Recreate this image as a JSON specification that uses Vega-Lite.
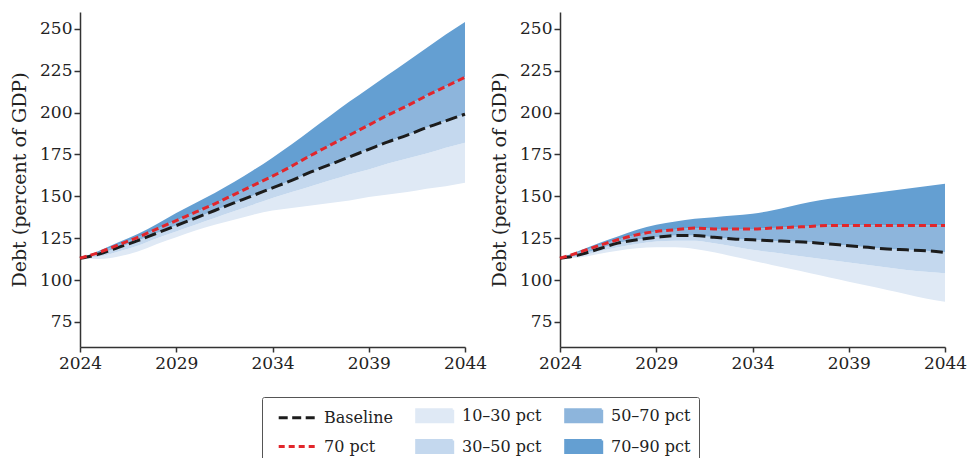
{
  "$schema": "https://vega.github.io/schema/vega-lite/v6.json",
  "padding": {"left": 10, "top": 12, "right": 5, "bottom": 0},
  "background": "white",
  "bounds": "flush",
  "spacing": 95,
  "config": {
    "font": "DejaVu Serif",
    "view": {"stroke": null},
    "axis": {
      "grid": false,
      "domainColor": "#333333",
      "domainWidth": 1.5,
      "tickColor": "#333333",
      "tickWidth": 1.5,
      "tickSize": 6,
      "labelFont": "DejaVu Serif",
      "labelFontSize": 17,
      "labelColor": "#222222",
      "labelPadding": 2,
      "titleFont": "DejaVu Serif",
      "titleFontSize": 19,
      "titleFontWeight": "normal",
      "titleColor": "#222222"
    }
  },
  "datasets": {
    "debt": [
      {"panel": "A", "year": 2024, "p10": 113, "p30": 113, "base": 113, "p70": 113, "p90": 113},
      {"panel": "A", "year": 2025, "p10": 112.5, "p30": 114, "base": 115.5, "p70": 116.5, "p90": 117.5},
      {"panel": "A", "year": 2026, "p10": 114, "p30": 117, "base": 119.5, "p70": 121, "p90": 122.5},
      {"panel": "A", "year": 2027, "p10": 117, "p30": 120.5, "base": 123.5, "p70": 125.5, "p90": 127.5},
      {"panel": "A", "year": 2028, "p10": 121.5, "p30": 125, "base": 128, "p70": 130.5, "p90": 133.5},
      {"panel": "A", "year": 2029, "p10": 125.5, "p30": 129, "base": 132.5, "p70": 135.5, "p90": 140},
      {"panel": "A", "year": 2030, "p10": 129.5, "p30": 133, "base": 137, "p70": 140.5, "p90": 146},
      {"panel": "A", "year": 2031, "p10": 133, "p30": 137, "base": 141.5, "p70": 145.5, "p90": 152},
      {"panel": "A", "year": 2032, "p10": 136, "p30": 141, "base": 146, "p70": 151, "p90": 158.5},
      {"panel": "A", "year": 2033, "p10": 139, "p30": 145, "base": 150.5, "p70": 156.5, "p90": 165.5},
      {"panel": "A", "year": 2034, "p10": 141.5, "p30": 149, "base": 155, "p70": 162, "p90": 173},
      {"panel": "A", "year": 2035, "p10": 143, "p30": 152.5, "base": 159.5, "p70": 168, "p90": 181},
      {"panel": "A", "year": 2036, "p10": 144.5, "p30": 156, "base": 164.5, "p70": 174.5, "p90": 189.5},
      {"panel": "A", "year": 2037, "p10": 146, "p30": 159.5, "base": 169, "p70": 180.5, "p90": 198},
      {"panel": "A", "year": 2038, "p10": 147.5, "p30": 163, "base": 173.5, "p70": 186.5, "p90": 206.5},
      {"panel": "A", "year": 2039, "p10": 149.5, "p30": 166, "base": 178, "p70": 192.5, "p90": 214.5},
      {"panel": "A", "year": 2040, "p10": 151, "p30": 169.5, "base": 182.5, "p70": 198.5, "p90": 222.5},
      {"panel": "A", "year": 2041, "p10": 152.5, "p30": 172.5, "base": 186.5, "p70": 204, "p90": 230.5},
      {"panel": "A", "year": 2042, "p10": 154.5, "p30": 175.5, "base": 191, "p70": 210, "p90": 238.5},
      {"panel": "A", "year": 2043, "p10": 156, "p30": 179, "base": 195, "p70": 215.5, "p90": 246.5},
      {"panel": "A", "year": 2044, "p10": 158, "p30": 182, "base": 199, "p70": 221, "p90": 254},
      {"panel": "B", "year": 2024, "p10": 113, "p30": 113, "base": 113, "p70": 113, "p90": 113},
      {"panel": "B", "year": 2025, "p10": 113.5, "p30": 114, "base": 115, "p70": 116.5, "p90": 117.5},
      {"panel": "B", "year": 2026, "p10": 115.5, "p30": 117, "base": 118.5, "p70": 120.5, "p90": 122},
      {"panel": "B", "year": 2027, "p10": 117.5, "p30": 119.5, "base": 122, "p70": 124, "p90": 126},
      {"panel": "B", "year": 2028, "p10": 119, "p30": 121.5, "base": 124, "p70": 127, "p90": 130},
      {"panel": "B", "year": 2029, "p10": 119.5, "p30": 123, "base": 125.5, "p70": 129, "p90": 133},
      {"panel": "B", "year": 2030, "p10": 119.5, "p30": 123.5, "base": 126.5, "p70": 130, "p90": 135},
      {"panel": "B", "year": 2031, "p10": 118.5, "p30": 123.5, "base": 126.5, "p70": 131, "p90": 136.5},
      {"panel": "B", "year": 2032, "p10": 116.5, "p30": 122, "base": 125.5, "p70": 130.5, "p90": 137.5},
      {"panel": "B", "year": 2033, "p10": 114, "p30": 120, "base": 124.5, "p70": 130.5, "p90": 138.5},
      {"panel": "B", "year": 2034, "p10": 111.5, "p30": 118, "base": 124, "p70": 130.5, "p90": 139.5},
      {"panel": "B", "year": 2035, "p10": 109, "p30": 116.5, "base": 123.5, "p70": 131, "p90": 141.5},
      {"panel": "B", "year": 2036, "p10": 106.5, "p30": 115, "base": 123, "p70": 131.5, "p90": 144},
      {"panel": "B", "year": 2037, "p10": 104, "p30": 113.5, "base": 122.5, "p70": 132, "p90": 146.5},
      {"panel": "B", "year": 2038, "p10": 101.5, "p30": 112, "base": 121.5, "p70": 132.5, "p90": 148.5},
      {"panel": "B", "year": 2039, "p10": 99, "p30": 110.5, "base": 120.5, "p70": 132.5, "p90": 150},
      {"panel": "B", "year": 2040, "p10": 96.5, "p30": 109, "base": 119.5, "p70": 132.5, "p90": 151.5},
      {"panel": "B", "year": 2041, "p10": 94, "p30": 107.5, "base": 118.5, "p70": 132.5, "p90": 153},
      {"panel": "B", "year": 2042, "p10": 91.5, "p30": 106, "base": 118, "p70": 132.5, "p90": 154.5},
      {"panel": "B", "year": 2043, "p10": 89, "p30": 105, "base": 117.5, "p70": 132.5, "p90": 156},
      {"panel": "B", "year": 2044, "p10": 87, "p30": 104, "base": 116.5, "p70": 132.5, "p90": 157.5}
    ]
  },
  "data": {"name": "debt"},
  "hconcat": [
    {
      "width": 385,
      "height": 335,
      "transform": [{"filter": "datum.panel === 'A'"}],
      "encoding": {
        "x": {"field": "year", "type": "quantitative", "scale": {"domain": [2024, 2044], "nice": false, "zero": false},
              "axis": {"values": [2024, 2029, 2034, 2039, 2044], "format": "d", "title": null, "labelFlush": false, "tickSize": 5, "labelPadding": 3}}
      },
      "layer": [
        {"mark": {"type": "area", "interpolate": "monotone"},
         "encoding": {
           "y": {"field": "p10", "type": "quantitative", "scale": {"domain": [60, 260], "nice": false, "zero": false},
                 "axis": {"values": [75, 100, 125, 150, 175, 200, 225, 250], "title": "Debt (percent of GDP)", "titlePadding": 10}},
           "y2": {"field": "p30"},
           "color": {"datum": "10–30 pct", "type": "nominal",
             "scale": {"domain": ["Baseline", "70 pct", "10–30 pct", "30–50 pct", "50–70 pct", "70–90 pct"],
                       "range": ["#1c1c1c", "#e2262b", "#dfe9f5", "#c4d8ee", "#8db5dc", "#649fd2"]},
             "legend": {
               "orient": "none", "legendX": 182, "legendY": 385,
               "title": null, "columns": 3, "symbolSize": 324, "labelOffset": 33,
               "columnPadding": 15, "rowPadding": 6, "padding": 8,
               "strokeColor": "#555555", "cornerRadius": 2,
               "labelFont": "DejaVu Serif", "labelFontSize": 16, "labelColor": "#222222",
               "encode": {"symbols": {"update": {
                 "shape": {"signal": "indexof(['Baseline','70 pct'], datum.value) >= 0 ? 'M-0.2,0H3.8' : 'M-0.2,-0.667H3.8V0.667H-0.2Z'"},
                 "fill": {"signal": "indexof(['Baseline','70 pct'], datum.value) >= 0 ? 'transparent' : scale('color', datum.value)"},
                 "stroke": {"signal": "indexof(['Baseline','70 pct'], datum.value) >= 0 ? scale('color', datum.value) : 'transparent'"},
                 "strokeWidth": {"value": 3},
                 "strokeDash": {"signal": "datum.value === 'Baseline' ? [9,4.5] : datum.value === '70 pct' ? [6,4] : [1,0]"},
                 "opacity": {"value": 1},
                 "fillOpacity": {"value": 1},
                 "strokeOpacity": {"value": 1}
               }}}
             }}
         }},
        {"mark": {"type": "area", "interpolate": "monotone"},
         "encoding": {"y": {"field": "p30", "type": "quantitative"}, "y2": {"field": "base"}, "color": {"datum": "30–50 pct", "type": "nominal"}}},
        {"mark": {"type": "area", "interpolate": "monotone"},
         "encoding": {"y": {"field": "base", "type": "quantitative"}, "y2": {"field": "p70"}, "color": {"datum": "50–70 pct", "type": "nominal"}}},
        {"mark": {"type": "area", "interpolate": "monotone"},
         "encoding": {"y": {"field": "p70", "type": "quantitative"}, "y2": {"field": "p90"}, "color": {"datum": "70–90 pct", "type": "nominal"}}},
        {"mark": {"type": "line", "interpolate": "monotone", "strokeDash": [12, 5], "strokeWidth": 3},
         "encoding": {"y": {"field": "base", "type": "quantitative"}, "color": {"datum": "Baseline", "type": "nominal"}}},
        {"mark": {"type": "line", "interpolate": "monotone", "strokeDash": [7, 4], "strokeWidth": 3},
         "encoding": {"y": {"field": "p70", "type": "quantitative"}, "color": {"datum": "70 pct", "type": "nominal"}}}
      ]
    },
    {
      "width": 385,
      "height": 335,
      "transform": [{"filter": "datum.panel === 'B'"}],
      "encoding": {
        "x": {"field": "year", "type": "quantitative", "scale": {"domain": [2024, 2044], "nice": false, "zero": false},
              "axis": {"values": [2024, 2029, 2034, 2039, 2044], "format": "d", "title": null, "labelFlush": false, "tickSize": 5, "labelPadding": 3}}
      },
      "layer": [
        {"mark": {"type": "area", "interpolate": "monotone"},
         "encoding": {
           "y": {"field": "p10", "type": "quantitative", "scale": {"domain": [60, 260], "nice": false, "zero": false},
                 "axis": {"values": [75, 100, 125, 150, 175, 200, 225, 250], "title": "Debt (percent of GDP)", "titlePadding": 10}},
           "y2": {"field": "p30"},
           "color": {"datum": "10–30 pct", "type": "nominal"}}},
        {"mark": {"type": "area", "interpolate": "monotone"},
         "encoding": {"y": {"field": "p30", "type": "quantitative"}, "y2": {"field": "base"}, "color": {"datum": "30–50 pct", "type": "nominal"}}},
        {"mark": {"type": "area", "interpolate": "monotone"},
         "encoding": {"y": {"field": "base", "type": "quantitative"}, "y2": {"field": "p70"}, "color": {"datum": "50–70 pct", "type": "nominal"}}},
        {"mark": {"type": "area", "interpolate": "monotone"},
         "encoding": {"y": {"field": "p70", "type": "quantitative"}, "y2": {"field": "p90"}, "color": {"datum": "70–90 pct", "type": "nominal"}}},
        {"mark": {"type": "line", "interpolate": "monotone", "strokeDash": [12, 5], "strokeWidth": 3},
         "encoding": {"y": {"field": "base", "type": "quantitative"}, "color": {"datum": "Baseline", "type": "nominal"}}},
        {"mark": {"type": "line", "interpolate": "monotone", "strokeDash": [7, 4], "strokeWidth": 3},
         "encoding": {"y": {"field": "p70", "type": "quantitative"}, "color": {"datum": "70 pct", "type": "nominal"}}}
      ]
    }
  ]
}
